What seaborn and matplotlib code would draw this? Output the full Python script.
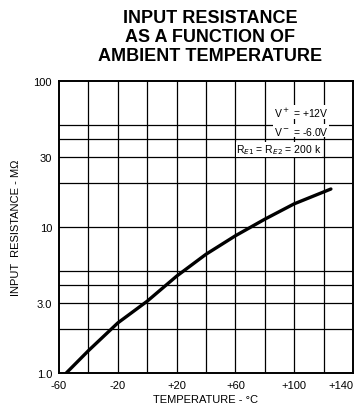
import matplotlib
matplotlib.use("Agg")
import matplotlib.pyplot as plt
from matplotlib.ticker import FixedLocator, NullLocator
import pandas as pd
import seaborn as sns

sns.set_style("white")
plt.rcParams['font.family'] = ['Liberation Sans Narrow', 'Liberation Sans', 'DejaVu Sans']
plt.rcParams['text.color'] = "black"
plt.rcParams['axes.labelcolor'] = "black"
plt.rcParams['xtick.color'] = "black"
plt.rcParams['ytick.color'] = "black"

# curve
temps = [-55, -40, -20, 0, 20, 40, 60, 80, 100, 125]
resistance = [1.0, 1.42, 2.2, 3.1, 4.6, 6.5, 8.7, 11.3, 14.4, 18.2]

x_ticks = [-60, -20, 20, 60, 100, 140]
x_tick_labels = ["-60", "-20", "+20", "+60", "+100", "+140"]
x_grid = [-40, -20, 0, 20, 40, 60, 80, 100, 120]
y_ticks = [1, 3, 10, 30, 100]
y_tick_labels = ["1.0", "3.0", "10", "30", "100"]
y_grid = [2, 3, 4, 5, 10, 20, 30, 40, 50]

df = pd.DataFrame({"temp": temps, "res": resistance})

fig = plt.figure(figsize=(3.62, 4.10), dpi=100)
ax = fig.add_axes([0.163, 0.088, 0.812, 0.712])

sns.lineplot(data=df, x="temp", y="res", ax=ax, color="black", linewidth=2.4, zorder=3)

ax.set_yscale("log")
ax.set_xlim(-60, 140)
ax.set_ylim(1, 100)

for g in x_grid:
    ax.axvline(g, color="black", linewidth=0.9, zorder=1)
for g in y_grid:
    ax.axhline(g, color="black", linewidth=0.9, zorder=1)

ax.xaxis.set_major_locator(FixedLocator(x_ticks))
ax.set_xticklabels(x_tick_labels)
ax.yaxis.set_major_locator(FixedLocator(y_ticks))
ax.yaxis.set_minor_locator(NullLocator())
ax.set_yticklabels(y_tick_labels)
ax.tick_params(axis="both", length=0, labelsize=8, pad=5)
ax.get_xticklabels()[-1].set_horizontalalignment("right")
ax.get_xticklabels()[-1].set_x(141)

for s in ax.spines.values():
    s.set_color("black")
    s.set_linewidth(1.4)

ax.set_xlabel("TEMPERATURE - °C", fontsize=8, labelpad=3)
ax.set_ylabel("INPUT  RESISTANCE - MΩ", fontsize=8, labelpad=9)

fig.text(0.58, 0.975, "INPUT RESISTANCE\nAS A FUNCTION OF\nAMBIENT TEMPERATURE",
         ha="center", va="top", fontsize=13, fontweight="bold", linespacing=1.15)

box = dict(facecolor="white", edgecolor="none", pad=0.4)
ax.text(86, 61, "V$^+$ = +12V", ha="left", va="center", fontsize=7.5, bbox=box, zorder=4)
ax.text(86, 45.5, "V$^-$ = -6.0V", ha="left", va="center", fontsize=7.5, bbox=box, zorder=4)
ax.text(60.5, 34, "R$_{E1}$ = R$_{E2}$ = 200 k", ha="left", va="center", fontsize=7.5, bbox=box, zorder=4)

fig.savefig("out.png", dpi=100)
